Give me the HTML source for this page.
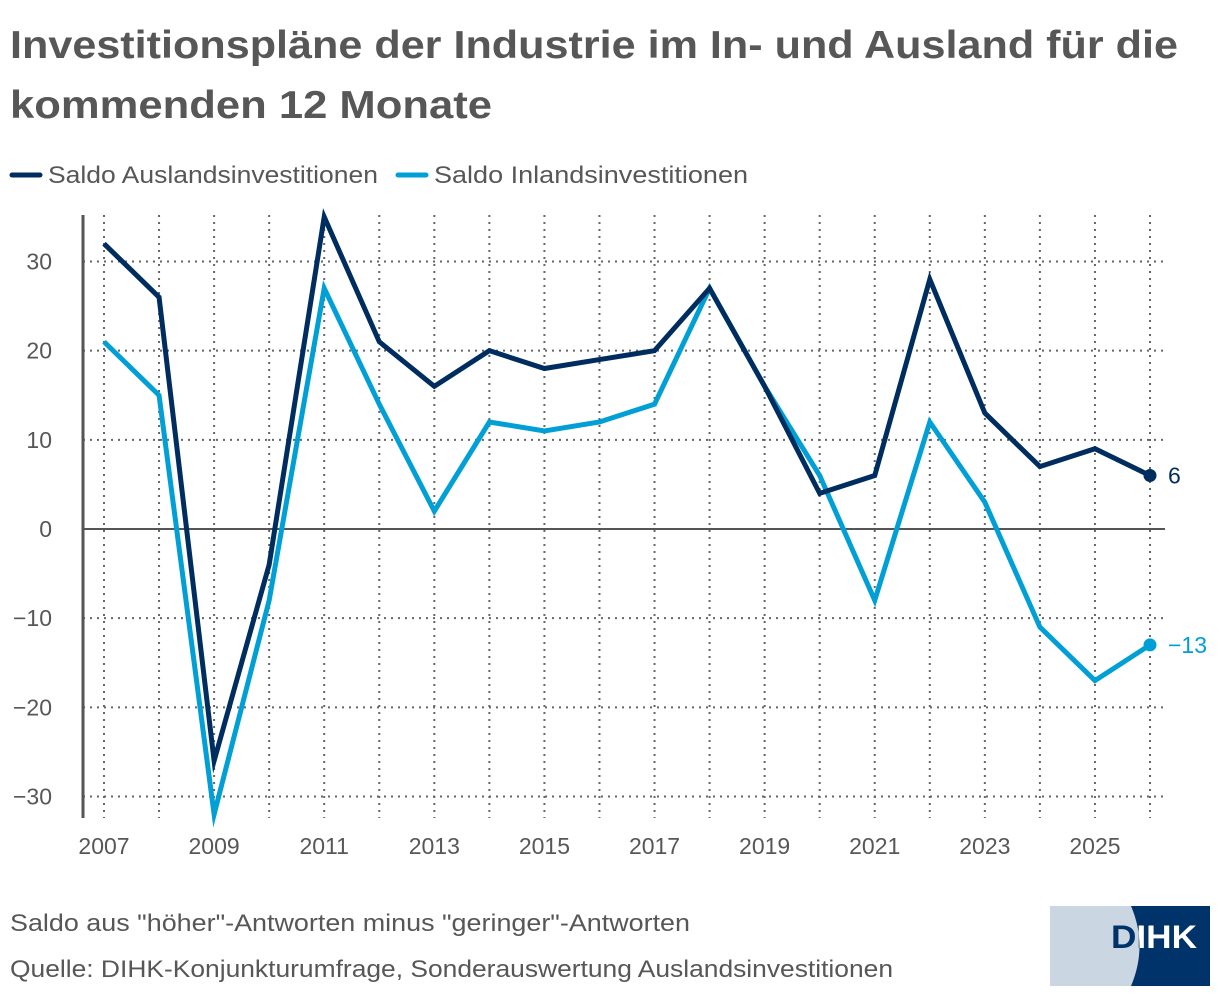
<!DOCTYPE html>
<html><head><meta charset="utf-8"><style>
body{margin:0;background:#fff;font-family:"Liberation Sans",sans-serif;}
svg text{font-family:"Liberation Sans",sans-serif;}
</style></head><body>
<svg width="1220" height="996" xmlns="http://www.w3.org/2000/svg">
<text x="10" y="58" font-size="39" font-weight="bold" fill="#575757" textLength="1168" lengthAdjust="spacingAndGlyphs">Investitionspläne der Industrie im In- und Ausland für die</text>
<text x="10" y="118" font-size="39" font-weight="bold" fill="#575757" textLength="482" lengthAdjust="spacingAndGlyphs">kommenden 12 Monate</text>
<g>
<line x1="12" y1="175" x2="40" y2="175" stroke="#002d5f" stroke-width="5" stroke-linecap="round"/>
<text x="48" y="183" font-size="24" fill="#575757" textLength="330" lengthAdjust="spacingAndGlyphs">Saldo Auslandsinvestitionen</text>
<line x1="398" y1="175" x2="426" y2="175" stroke="#00a0d6" stroke-width="5" stroke-linecap="round"/>
<text x="434" y="183" font-size="24" fill="#575757" textLength="314" lengthAdjust="spacingAndGlyphs">Saldo Inlandsinvestitionen</text>
</g>
<g id="grid"></g>
<g id="marks"></g>
<text x="10" y="931" font-size="24" fill="#575757" textLength="680" lengthAdjust="spacingAndGlyphs">Saldo aus "höher"-Antworten minus "geringer"-Antworten</text>
<text x="10" y="977" font-size="24" fill="#575757" textLength="883" lengthAdjust="spacingAndGlyphs">Quelle: DIHK-Konjunkturumfrage, Sonderauswertung Auslandsinvestitionen</text>
<g>
<defs><clipPath id="nv"><path d="M1131,906 Q1148,946 1131,986 L1210,986 L1210,906 Z"/></clipPath>
<clipPath id="lt"><path d="M1050,906 L1131,906 Q1148,946 1131,986 L1050,986 Z"/></clipPath></defs>
<rect x="1050" y="906" width="160" height="80" fill="#cbd6e3"/>
<rect x="1050" y="906" width="160" height="80" fill="#00336a" clip-path="url(#nv)"/>
<text x="1111" y="948" font-size="32" font-weight="bold" fill="#00336a" textLength="86" lengthAdjust="spacingAndGlyphs" clip-path="url(#lt)">DIHK</text>
<text x="1111" y="948" font-size="32" font-weight="bold" fill="#fff" textLength="86" lengthAdjust="spacingAndGlyphs" clip-path="url(#nv)">DIHK</text>
</g>
</svg>
<script>
const years=[2007,2008,2009,2010,2011,2012,2013,2014,2015,2016,2017,2018,2019,2020,2021,2022,2023,2024,2025,2026];
const ausland=[32,26,-26,-4,35,21,16,20,18,19,20,27,16,4,6,28,13,7,9,6];
const inland=[21,15,-32,-8,27,14,2,12,11,12,14,27,16,6,-8,12,3,-11,-17,-13];
const yTicks=[-30,-20,-10,0,10,20,30];
const xLabels=[2007,2009,2011,2013,2015,2017,2019,2021,2023,2025];
const NS='http://www.w3.org/2000/svg';
const x=v=>104+(v-2007)*(1150-104)/19;
const y=v=>529-v*(797-262)/60;
function mk(t,a,p){const e=document.createElementNS(NS,t);for(const k in a)e.setAttribute(k,a[k]);p.appendChild(e);return e;}
const g=document.getElementById('grid'),m=document.getElementById('marks');
years.forEach(yr=>{const l=mk('line',{x1:x(yr),x2:x(yr),y1:215,y2:818,stroke:'#666','stroke-width':2,'stroke-dasharray':'2 5'},g);

});
xLabels.forEach(yr=>{const t=mk('text',{x:x(yr),y:854,'font-size':23,fill:'#575757','text-anchor':'middle'},g);t.textContent=yr;

});
yTicks.forEach(v=>{if(v!==0){const l=mk('line',{x1:83,x2:1165,y1:y(v),y2:y(v),stroke:'#666','stroke-width':2,'stroke-dasharray':'2 5'},g);

}
const t=mk('text',{x:52,y:y(v)+8,'font-size':23,fill:'#575757','text-anchor':'end'},g);t.textContent=v<0?'\u2212'+(-v):v;

});
const z=mk('line',{x1:83,x2:1165,y1:y(0),y2:y(0),stroke:'#555','stroke-width':2},g);


const ax=mk('line',{x1:83,x2:83,y1:215,y2:818,stroke:'#555','stroke-width':3},g);


function series(vals,col,name){
const p=mk('polyline',{points:vals.map((v,i)=>x(years[i])+','+y(v)).join(' '),fill:'none',stroke:col,'stroke-width':5,'stroke-linejoin':'miter','stroke-miterlimit':10},m);


const last=vals[vals.length-1],lxp=x(years[years.length-1]);
const c=mk('circle',{cx:lxp,cy:y(last),r:6.5,fill:col},m);


const t=mk('text',{x:lxp+18,y:y(last)+8,'font-size':23,fill:col},m);t.textContent=last<0?'\u2212'+(-last):last;

}
series(inland,'#00a0d6','inland');
series(ausland,'#002d5f','ausland');
</script>
</body></html>
